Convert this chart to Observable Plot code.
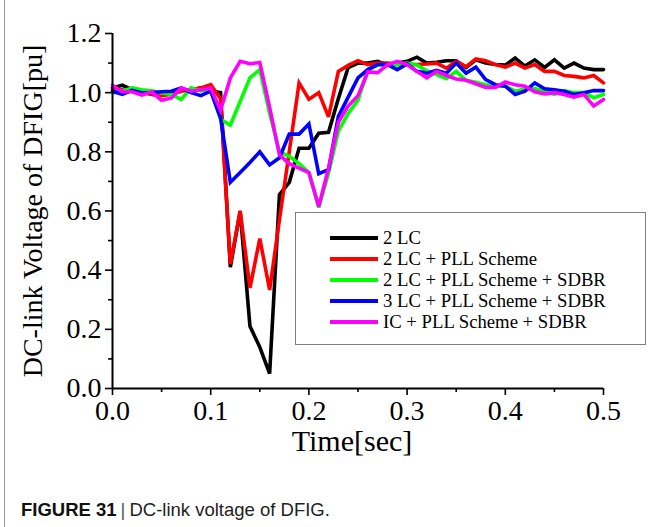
<!DOCTYPE html>
<html>
<head>
<meta charset="utf-8">
<script src="https://cdn.jsdelivr.net/npm/d3@7"></script>
<script src="https://cdn.jsdelivr.net/npm/@observablehq/plot@0.6"></script>
<style>
  html, body { margin: 0; padding: 0; background: #fff; }
  #wrap { position: relative; width: 650px; height: 527px; overflow: hidden; }
  #leftbar { position: absolute; left: 4px; top: 0; width: 1px; height: 527px; background: #9a9a9a; }
  #legend { position: absolute; left: 295px; top: 212px; width: 349px; height: 131px;
            border: 1.5px solid #808080; background: #fff; font-family: "Liberation Serif", serif; font-size: 18.7px; }
  .row { position: absolute; left: 34px; height: 21px; display: flex; align-items: center; white-space: nowrap; color: #000; }
  .swatch { width: 48px; height: 4px; margin-right: 5px; }
  #caption { position: absolute; left: 21px; top: 499px; font-family: "Liberation Sans", Arial, sans-serif; font-size: 18.5px; color: #222; white-space: nowrap; }
  #caption b { font-weight: bold; color: #111; }
  #caption .bar { color: #555; margin: 0 4px; }
</style>
</head>
<body>
<div id="wrap">
  <div id="chart"></div>
  <div id="leftbar"></div>
  <div id="legend"></div>
  <div id="caption"><b>FIGURE 31</b><span class="bar">|</span>DC-link voltage of DFIG.</div>
</div>
<script>
const time = [0.00,0.01,0.02,0.03,0.04,0.05,0.06,0.07,0.08,0.09,0.10,0.11,0.12,0.13,0.14,0.15,0.16,0.17,0.18,0.19,0.20,0.21,0.22,0.23,0.24,0.25,0.26,0.27,0.28,0.29,0.30,0.31,0.32,0.33,0.34,0.35,0.36,0.37,0.38,0.39,0.40,0.41,0.42,0.43,0.44,0.45,0.46,0.47,0.48,0.49,0.50];

const lc2 = [1.016,1.025,1.010,1.005,0.994,0.992,0.999,1.010,1.010,1.016,1.005,1.000,0.410,0.600,0.210,0.140,0.050,0.655,0.697,0.812,0.812,0.863,0.866,0.980,1.085,1.100,1.100,1.106,1.094,1.100,1.106,1.120,1.100,1.103,1.108,1.108,1.085,1.111,1.100,1.095,1.093,1.117,1.090,1.111,1.085,1.111,1.083,1.100,1.083,1.078,1.078];

const lc2Pll = [1.010,1.010,1.005,1.000,0.995,0.990,0.995,1.005,1.010,1.016,1.027,0.980,0.420,0.600,0.340,0.507,0.333,0.570,0.800,1.033,0.978,1.000,0.918,1.072,1.092,1.108,1.095,1.100,1.100,1.097,1.095,1.095,1.097,1.100,1.083,1.106,1.088,1.114,1.108,1.095,1.086,1.100,1.083,1.095,1.072,1.072,1.058,1.055,1.050,1.058,1.033];

const lc2PllSdbr = [0.999,1.005,1.016,1.010,1.006,0.999,0.994,0.977,1.016,1.006,1.010,0.910,0.890,0.970,1.050,1.078,0.930,0.800,0.785,0.760,0.730,0.612,0.728,0.870,0.930,0.975,1.077,1.094,1.094,1.094,1.100,1.094,1.074,1.061,1.047,1.072,1.042,1.035,1.027,1.022,1.022,1.005,1.012,1.014,1.005,0.994,1.007,1.000,1.000,0.983,0.994];

const lc3PllSdbr = [1.005,0.994,1.008,0.999,1.000,1.003,1.005,1.016,1.000,0.990,1.005,0.915,0.697,0.730,0.764,0.800,0.756,0.780,0.860,0.860,0.894,0.726,0.740,0.920,0.985,1.050,1.078,1.095,1.095,1.078,1.097,1.072,1.066,1.075,1.066,1.100,1.066,1.086,1.044,1.027,1.022,0.994,1.005,1.033,1.013,1.010,1.005,0.994,1.000,1.007,1.007];

const icPllSdbr = [1.025,1.003,1.003,0.992,1.003,0.974,0.982,1.016,1.005,1.010,1.016,0.940,1.050,1.106,1.098,1.102,0.950,0.790,0.760,0.745,0.730,0.615,0.745,0.900,0.955,0.990,1.070,1.068,1.094,1.106,1.095,1.072,1.050,1.072,1.058,1.046,1.042,1.030,1.018,1.018,1.036,1.027,1.022,1.003,0.996,1.000,0.994,0.985,0.994,0.955,0.977];

const seriesNames = ["2 LC", "2 LC + PLL Scheme", "2 LC + PLL Scheme + SDBR", "3 LC + PLL Scheme + SDBR", "IC + PLL Scheme + SDBR"];
const seriesColors = ["#000000", "#ff0000", "#00ff00", "#0000ff", "#ff00ff"];
const seriesValues = [lc2, lc2Pll, lc2PllSdbr, lc3PllSdbr, icPllSdbr];

const xMajor = [0, 0.1, 0.2, 0.3, 0.4, 0.5];
const xMinor = [0.05, 0.15, 0.25, 0.35, 0.45];
const yMajor = [0, 0.2, 0.4, 0.6, 0.8, 1.0, 1.2];
const yMinor = [0.1, 0.3, 0.5, 0.7, 0.9, 1.1];

const xTitle = "Time[sec]";
const yTitle = "DC-link Voltage of DFIG[pu]";

const rows = [];
seriesNames.forEach((name, i) => {
  time.forEach((t, j) => rows.push({series: name, t, v: seriesValues[i][j]}));
});

const serif = "'Liberation Serif', 'Times New Roman', serif";

const chart = Plot.plot({
  width: 650,
  height: 470,
  marginLeft: 112,
  marginRight: 47,
  marginTop: 33,
  marginBottom: 82,
  style: {fontFamily: serif, background: "#fff", color: "#000", overflow: "visible"},
  x: {domain: [0, 0.5]},
  y: {domain: [0, 1.2]},
  color: {domain: seriesNames, range: seriesColors},
  marks: [
    Plot.axisX({ticks: xMajor, tickFormat: d3.format(".1f"), tickSize: 7, tickPadding: 5, fontSize: 28, strokeWidth: 1.6, label: null}),
    Plot.axisX({ticks: xMinor, tickFormat: () => "", tickSize: 4, strokeWidth: 1.6, label: null}),
    Plot.axisY({ticks: yMajor, tickFormat: d3.format(".1f"), tickSize: 7, tickPadding: 4, fontSize: 28, strokeWidth: 1.6, label: null}),
    Plot.axisY({ticks: yMinor, tickFormat: () => "", tickSize: 4, strokeWidth: 1.6, label: null}),
    Plot.lineY(rows, {x: "t", y: "v", z: "series", stroke: "series", strokeWidth: 3.6, strokeLinejoin: "miter", strokeMiterlimit: 3}),
    Plot.ruleX([0], {y1: 0, y2: 1.2, stroke: "#000", strokeWidth: 2}),
    Plot.ruleY([0], {x1: 0, x2: 0.5, stroke: "#000", strokeWidth: 2}),
    Plot.text([xTitle], {frameAnchor: "bottom", dx: -6, dy: 62, fontSize: 30, fill: "#000"}),
    Plot.text([yTitle], {frameAnchor: "left", textAnchor: "middle", lineAnchor: "middle", rotate: -90, dx: -79, fontSize: 28, fill: "#000"})
  ]
});
document.getElementById("chart").appendChild(chart);

const legend = document.getElementById("legend");
seriesNames.forEach((name, i) => {
  const r = document.createElement("div");
  r.className = "row";
  r.style.top = (14 + i * 21) + "px";
  const s = document.createElement("div");
  s.className = "swatch";
  s.style.background = seriesColors[i];
  const t = document.createElement("span");
  t.textContent = name;
  r.appendChild(s); r.appendChild(t);
  legend.appendChild(r);
});
</script>
</body>
</html>
